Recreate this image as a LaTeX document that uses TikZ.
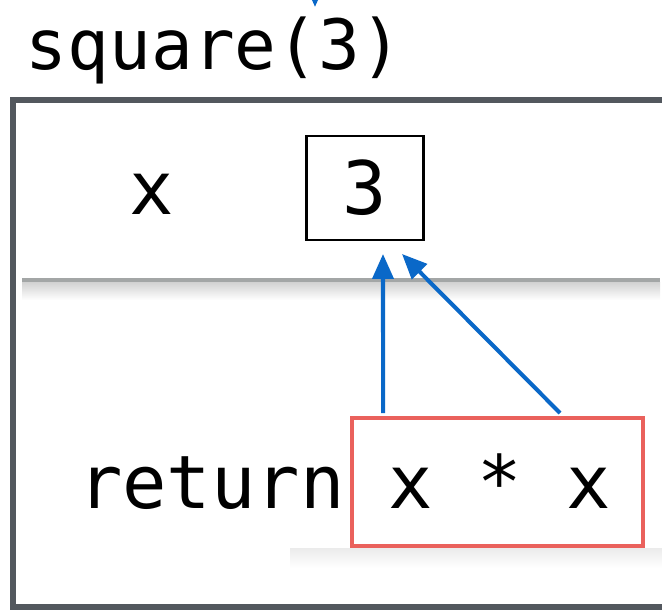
\documentclass[tikz,border=0pt]{standalone}
\usepackage{fontspec}
\setmonofont{DejaVu Sans Mono}
\usetikzlibrary{arrows.meta,calc}
\definecolor{framegray}{HTML}{53585E}
\definecolor{rulegray}{HTML}{A3A6A6}
\definecolor{refblue}{HTML}{0A68C8}
\definecolor{exprred}{HTML}{EA615C}
\tikzset{
  code/.style={font=\ttfamily\fontsize{42}{50}\selectfont, inner sep=0pt, outer sep=0pt},
  ref/.style={draw=refblue, line width=2.3pt, -{Triangle[length=0.5cm,width=0.42cm]}},
}
\begin{document}
\begin{tikzpicture}[x=0.02cm,y=-0.02cm]
  \useasboundingbox (0,0) rectangle (662,611);

  % call and frame
  \node[code, font=\ttfamily\fontsize{39.5}{46}\selectfont, anchor=base west] (call) at (26,70) {square(3)};
  \coordinate (callin) at (315,-40);
  \coordinate (callend) at (315,7);
  \draw[ref] (callin) -- (callend);
  \draw[framegray, line width=3pt] (13,100) rectangle (720,607);

  % bindings
  \shade[top color=black!18, bottom color=white] (22,282) rectangle (660,300);
  \draw[rulegray, line width=2.6pt] (22,280) -- (660,280);
  \node[code] (name) at (152,194) {x};
  \node[code, draw, line width=1.3pt, minimum width=2.34cm, minimum height=2.08cm] (val) at (365,188) {3};

  % body
  \shade[top color=black!8, bottom color=white] (290,548) rectangle (662,568);
  \node[code, anchor=base west] (ret) at (78,508) {return};
  \node[code, draw=exprred, fill=white, line width=2.2pt, minimum width=5.82cm, minimum height=2.56cm] (expr) at (497.5,482) {};
  \node[code, anchor=base] (body) at (500,508) {x * x};

  \coordinate (lhs) at ($(expr.north west)+(31,-5)$);
  \coordinate (rhs) at ($(expr.north west)+(208,-5)$);
  \coordinate (lhsend) at ($(val.south)+(18,14)$);
  \coordinate (rhsend) at ($(val.south)+(37,14)$);
  \draw[ref] (lhs) -- (lhsend);
  \draw[ref] (rhs) -- (rhsend);
\end{tikzpicture}
\end{document}
